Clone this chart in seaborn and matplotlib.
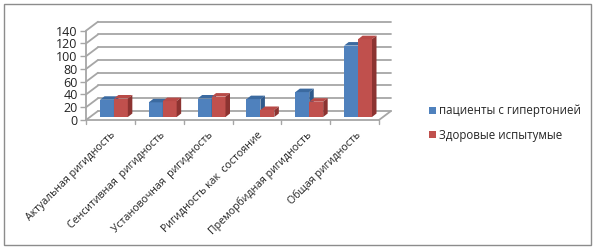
import matplotlib
matplotlib.use('Agg')
import matplotlib.pyplot as plt
import seaborn as sns
import pandas as pd
from matplotlib.patches import Polygon, Rectangle, Patch

categories = ['Актуальная ригидность', 'Сенситивная  ригидность', 'Установочная  ригидность',
              'Ригидность как  состояние', 'Преморбидная ригидность', 'Общая ригидность']
patients = [27, 23, 29, 28, 39, 112]
healthy = [29, 25, 32, 11, 24, 122]
series_names = ['пациенты с гипертонией', 'Здоровые испытумые']
yticks = [0, 20, 40, 60, 80, 100, 120, 140]

front_colors = ['#4F81BD', '#C0504D']
top_colors = ['#3B6AA0', '#B84A47']
side_colors = ['#2F5A8C', '#8C3331']
grid_color = '#A6A6A6'

sns.set_theme(style='white')
plt.rcParams['font.family'] = ['Open Sans', 'DejaVu Sans']

W, H = 595, 250
fig = plt.figure(figsize=(W / 100, H / 100), dpi=100)
ax = fig.add_axes([86 / W, (H - 120) / H, (379 - 86) / W, (120 - 30.7) / H])

df = pd.DataFrame({
    'category': categories * 2,
    'value': patients + healthy,
    'series': [series_names[0]] * len(categories) + [series_names[1]] * len(categories),
})
sns.barplot(data=df, x='category', y='value', hue='series', hue_order=series_names,
            palette=front_colors, width=0.57, saturation=1, ax=ax, legend=False,
            edgecolor='none', linewidth=0, zorder=3)
ax.set_xlim(-0.5, len(categories) - 0.5)
ax.set_ylim(0, 140)
for s in ax.spines.values():
    s.set_visible(False)
ax.set_xlabel('')
ax.set_ylabel('')

# pixel-to-data conversion
p0 = ax.transData.transform((0, 0))
p1 = ax.transData.transform((1, 1))
sx = p1[0] - p0[0]
sy = p1[1] - p0[1]

def px(dx, dy):
    return dx / sx, dy / sy

# back wall offset and bar offsets
wx, wy = px(12, 9)
bx, by = px(3.5, 3)
dx, dy = px(4.5, 3.5)

x0, x1 = -0.5, len(categories) - 0.5
for v in yticks:
    ax.plot([x0 + wx, x1 + wx], [v + wy, v + wy], color=grid_color, lw=1.3, clip_on=False, zorder=1)
    ax.plot([x0, x0 + wx], [v, v + wy], color=grid_color, lw=1.3, clip_on=False, zorder=1)
# floor
ax.plot([x0, x1], [0, 0], color=grid_color, lw=1.3, clip_on=False, zorder=1)
ax.plot([x1, x1 + wx], [0, wy], color=grid_color, lw=1.3, clip_on=False, zorder=1)
# y axis line
ax.plot([x0, x0], [0, 140], color=grid_color, lw=1.3, clip_on=False, zorder=1)

# 3D bar faces
bars = list(ax.patches)
n = len(categories)
for i, bar in enumerate(bars):
    k = i // n
    x = bar.get_x() + bx
    w = bar.get_width()
    h = bar.get_height()
    bar.set_x(x)
    bar.set_y(by)
    bar.set_zorder(3 + k * 2)
    top = Polygon([(x, h + by), (x + w, h + by), (x + w + dx, h + by + dy), (x + dx, h + by + dy)],
                  closed=True, facecolor=top_colors[k], edgecolor='none', zorder=3 + k * 2, clip_on=False)
    side = Polygon([(x + w, by), (x + w, h + by), (x + w + dx, h + by + dy), (x + w + dx, by + dy)],
                   closed=True, facecolor=side_colors[k], edgecolor='none', zorder=3 + k * 2, clip_on=False)
    ax.add_patch(top)
    ax.add_patch(side)
    bar.set_clip_on(False)

ax.set_yticks(yticks)
ax.set_yticklabels([str(v) for v in yticks], fontsize=9, color='#222222')
ax.tick_params(axis='y', length=4, width=1, color=grid_color, pad=2, left=True)
ax.set_xticks(range(n))
ax.set_xticklabels(categories, fontsize=7.6, rotation=45, ha='right', va='top',
                   rotation_mode='anchor', color='#222222')
ax.tick_params(axis='x', length=0, pad=7)
# small tick marks at category boundaries
for b in [x0 + i for i in range(n + 1)]:
    ax.plot([b, b], [0, px(0, -4)[1]], color=grid_color, lw=1, clip_on=False, zorder=1)

handles = [Patch(facecolor=c, edgecolor='none') for c in front_colors]
fig.legend(handles, series_names, loc='center left', bbox_to_anchor=(419 / W, 1 - 123 / H),
           frameon=False, fontsize=8.3, handlelength=0.55, handleheight=0.55,
           handletextpad=0.3, labelspacing=1.0)

fig.add_artist(Rectangle((4 / W, 1 - 245 / H), (591 - 4) / W, (245 - 4) / H,
                         transform=fig.transFigure, fill=False, edgecolor='#8C8C8C', lw=1))

fig.savefig('out.png', dpi=100)
